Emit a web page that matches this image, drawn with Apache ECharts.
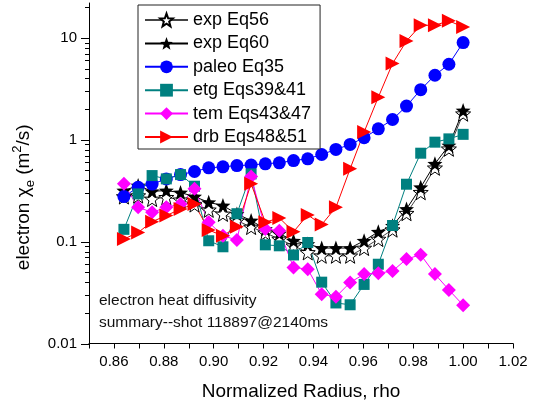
<!DOCTYPE html>
<html><head><meta charset="utf-8">
<script src="https://cdn.jsdelivr.net/npm/echarts@6/dist/echarts.min.js"></script>
<style>html,body{margin:0;padding:0;background:#fff}#c{width:534px;height:408px}</style>
</head><body><div id="c"></div>
<script>
// ---- data ----
const rho = [0.864,0.8697,0.8753,0.881,0.8867,0.8923,0.898,0.9037,0.9093,0.915,0.9207,0.9263,0.932,0.9377,0.9433,0.949,0.9547,0.9603,0.966,0.9717,0.9773,0.983,0.9887,0.9943,1.0];
const exp56 = [0.277,0.283,0.262,0.272,0.257,0.231,0.205,0.187,0.161,0.139,0.122,0.106,0.0912,0.0783,0.0726,0.0726,0.0726,0.0865,0.106,0.131,0.190,0.305,0.530,0.815,1.80];
const exp60 = [0.317,0.355,0.312,0.317,0.303,0.277,0.243,0.226,0.187,0.161,0.133,0.120,0.102,0.0946,0.0865,0.0865,0.0865,0.102,0.125,0.143,0.209,0.341,0.581,0.879,1.94];
const paleo = [0.277,0.341,0.367,0.413,0.455,0.488,0.530,0.542,0.558,0.565,0.581,0.594,0.625,0.650,0.717,0.803,0.899,1.047,1.28,1.58,2.14,3.10,4.30,5.51,9.0];
const etg = [0.132,0.294,0.445,0.413,0.455,0.35,0.102,0.089,0.188,0.462,0.093,0.091,0.074,0.098,0.040,0.025,0.024,0.038,0.060,0.144,0.366,0.738,0.947,1.02,1.13];
const tem = [0.369,0.217,0.194,0.217,0.234,0.330,0.155,0.114,0.104,0.435,0.133,0.128,0.0557,0.0537,0.0305,0.0287,0.0397,0.048,0.049,0.0514,0.0675,0.0743,0.048,0.0336,0.0238];
const drb = [0.106,0.123,0.157,0.180,0.209,0.234,0.130,0.114,0.140,0.369,0.155,0.171,0.125,0.183,0.147,0.217,0.519,1.19,2.62,5.6,9.34,13.3,13.3,14.7,12.8];
const seriesNames = ['exp Eq56','exp Eq60','paleo Eq35','etg Eqs39&41','tem Eqs43&47','drb Eqs48&51'];
const yDecades = [0.01,0.1,1,10];
const annotation = ['electron heat diffusivity','summary--shot 118897@2140ms'];
const xTitle = 'Normalized Radius, rho';

// ---- chart ----
const FONT = '"Liberation Sans", Arial, Helvetica, sans-serif';
const STAR = 'path://M0,-100L24.7,-34L95.1,-30.9L39.9,13L58.8,80.9L0,42L-58.8,80.9L-39.9,13L-95.1,-30.9L-24.7,-34Z';
function pts(a){ return rho.map((r,i)=>[r,a[i]]); }
const X_MIN = 0.85, X_MAX = 1.02, Y_MIN = 0.01, Y_MAX = 22;

const chart = echarts.init(document.getElementById('c'), null, {renderer:'canvas'});
function ser(name, data, symbol, size, color, lineColor, extra){
  return Object.assign({
    name, type:'line', data:pts(data), symbol, symbolSize:size,
    itemStyle:{color:color},
    lineStyle:{color:lineColor, width:1},
    emphasis:{disabled:true}
  }, extra||{});
}
chart.setOption({
  animation:false,
  backgroundColor:'#fff',
  textStyle:{fontFamily:FONT},
  grid:{left:89, right:21, top:3, bottom:64.5, containLabel:false},
  title:{
    text: annotation.join('\n'), left:99, top:290, padding:0,
    textStyle:{fontSize:15.5, fontWeight:'normal', color:'#111', lineHeight:21.7, fontFamily:FONT}
  },
  legend:{
    orient:'vertical', left:138, top:5, padding:[6,9,3,6],
    itemWidth:43, itemHeight:16, itemGap:5.4,
    borderColor:'#222', borderWidth:1, backgroundColor:'#fff',
    textStyle:{fontSize:18, color:'#000', lineHeight:18, fontFamily:FONT},
    data: seriesNames
  },
  xAxis:{
    type:'value', min:X_MIN, max:X_MAX, interval:0.01,
    axisLine:{show:true, onZero:false, lineStyle:{color:'#000', width:1}},
    axisTick:{show:true, length:5, interval:0, lineStyle:{color:'#000'}},
    splitLine:{show:false},
    axisLabel:{
      interval:0, margin:11, fontSize:15, color:'#000', fontFamily:FONT,
      showMinLabel:true, showMaxLabel:true,
      formatter:function(v){ const k=Math.round(v*100); return k%2===0 ? (k/100).toFixed(2) : ''; }
    },
    name:xTitle, nameLocation:'middle', nameGap:39,
    nameTextStyle:{fontSize:19, color:'#000', fontFamily:FONT}
  },
  yAxis:{
    type:'log', logBase:10, min:Y_MIN, max:Y_MAX,
    axisLine:{show:true, onZero:false, lineStyle:{color:'#000', width:1}},
    axisTick:{show:false},
    minorTick:{show:false},
    splitLine:{show:false},
    axisLabel:{
      margin:12, fontSize:15, color:'#000', fontFamily:FONT,
      formatter:function(v){ const l=Math.log10(v); if (Math.abs(l-Math.round(l))>1e-6) return ''; return String(parseFloat(v.toPrecision(4))); }
    },
    name:'electron χ{sub|e} (m{sup|2}/s)', nameLocation:'middle', nameGap:50,
    nameTextStyle:{fontSize:19, lineHeight:26, color:'#000', fontFamily:FONT, padding:[0,48,0,0],
      rich:{
        sub:{fontSize:13, lineHeight:13, verticalAlign:'bottom', color:'#000', fontFamily:FONT},
        sup:{fontSize:13, lineHeight:13, verticalAlign:'top', color:'#000', fontFamily:FONT}
      }
    }
  },
  series:[
    ser(seriesNames[0], exp56, STAR, 15, '#fff', '#444', {itemStyle:{color:'#fff', borderColor:'#000', borderWidth:1}}),
    ser(seriesNames[1], exp60, STAR, 15, '#000', '#000'),
    ser(seriesNames[2], paleo, 'circle', 13, '#0000ff', '#0000ff'),
    ser(seriesNames[3], etg, 'rect', 11, '#008080', '#008080'),
    ser(seriesNames[4], tem, 'diamond', 14, '#ff00ff', '#ff00ff'),
    ser(seriesNames[5], drb, 'triangle', 14, '#ff0000', '#ff0000', {symbolRotate:-90})
  ]
});

// log-style y ticks (major at decades, minor at 2..9)
const x0 = chart.convertToPixel({xAxisIndex:0}, X_MIN);
const ticks = [];
yDecades.forEach(function(d){
  for (let m=1; m<=9; m++){
    const v = d*m; if (v > Y_MAX) break;
    const y = Math.round(chart.convertToPixel({yAxisIndex:0}, v)) + 0.5;
    ticks.push({type:'line', silent:true, shape:{x1:x0-(m===1?8:4), y1:y, x2:x0, y2:y}, style:{stroke:'#000', lineWidth:1}});
  }
});
chart.setOption({graphic: ticks});
</script>
</body></html>
